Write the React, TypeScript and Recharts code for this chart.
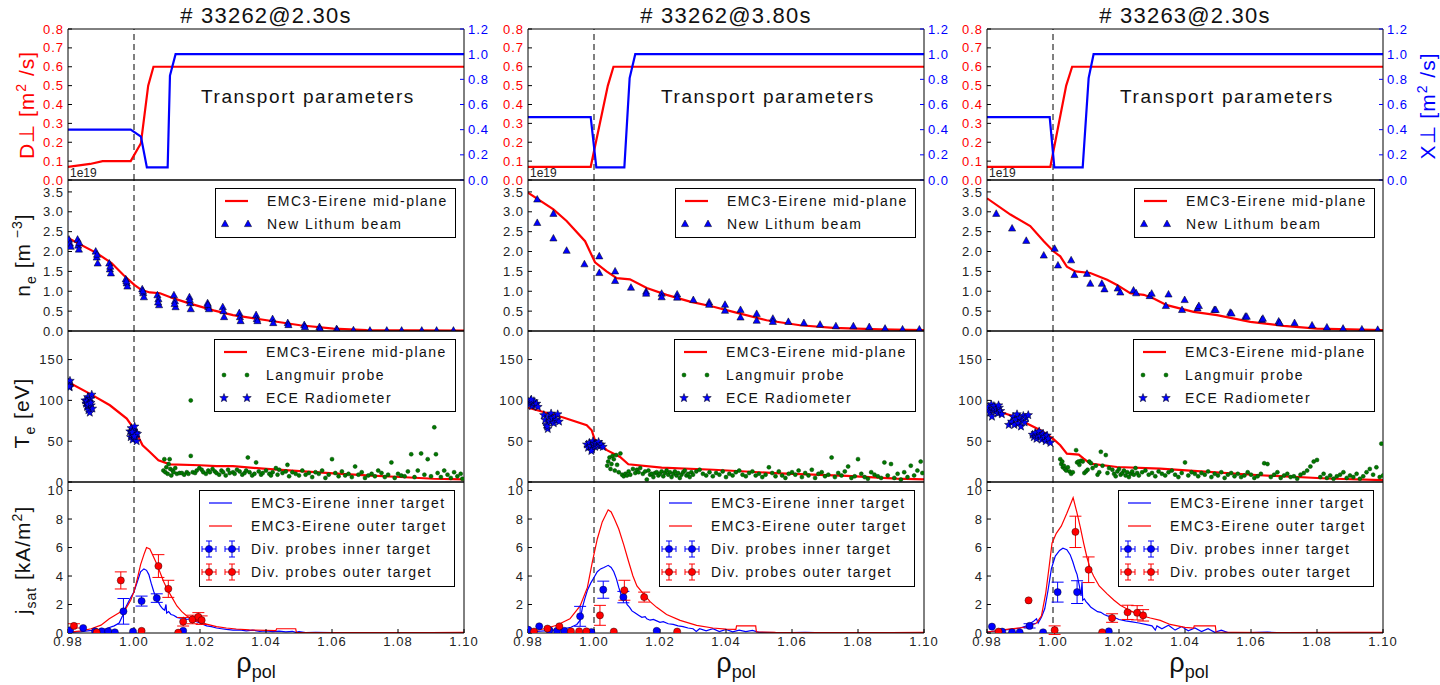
import React from "react";
import {
  ComposedChart,
  Line,
  Scatter,
  XAxis,
  YAxis,
  ReferenceLine,
  ErrorBar,
  Legend,
} from "recharts";

const FONT = '"Liberation Sans", Arial, Helvetica, sans-serif';
const RED = "#ff0000";
const BLUE = "#0000ff";
const GREEN = "#007a00";

// plot boxes of the 3 x 4 panel grid
const PLOT_LEFT = [68, 528, 987];
const PLOT_TOP = [29, 180, 331, 482];
const PW = 396;
const PH = 151;

const titles = ["# 33262@2.30s", "# 33262@3.80s", "# 33263@2.30s"];
const rhoTicks = [0.98, 1.0, 1.02, 1.04, 1.06, 1.08, 1.1];
const dTicks = [0, 0.1, 0.2, 0.3, 0.4, 0.5, 0.6, 0.7, 0.8];
const chiTicks = [0, 0.2, 0.4, 0.6, 0.8, 1.0, 1.2];
const neTicks = [0, 0.5, 1.0, 1.5, 2.0, 2.5, 3.0, 3.5];
const teTicks = [0, 50, 100, 150];
const jTicks = [0, 2, 4, 6, 8, 10];

const neLegend = ["EMC3-Eirene mid-plane", "New Lithum beam"];
const teLegend = ["EMC3-Eirene mid-plane", "Langmuir probe", "ECE Radiometer"];
const jLegend = [
  "EMC3-Eirene inner target",
  "EMC3-Eirene outer target",
  "Div. probes inner target",
  "Div. probes outer target",
];

// ---- transport coefficients [rho, value]
const dPerpA = [[0.98, 0.07], [0.9867, 0.085], [0.9905, 0.1], [0.999, 0.1], [1.0021, 0.195], [1.0043, 0.5], [1.0059, 0.6], [1.1, 0.6]];
const chiA = [[0.98, 0.4], [0.999, 0.4], [1.0021, 0.345], [1.0039, 0.1], [1.0102, 0.1], [1.0109, 0.83], [1.0126, 1.0], [1.1, 1.0]];
const dPerpB = [[0.98, 0.07], [0.999, 0.07], [1.0042, 0.5], [1.0059, 0.6], [1.1, 0.6]];
const chiB = [[0.98, 0.5], [0.999, 0.5], [1.0007, 0.1], [1.0092, 0.1], [1.0108, 0.81], [1.0125, 1.0], [1.1, 1.0]];
const dPerpC = [[0.98, 0.07], [0.9992, 0.07], [1.004, 0.5], [1.0058, 0.6], [1.1, 0.6]];
const chiC = [[0.98, 0.5], [0.999, 0.5], [1.0004, 0.1], [1.009, 0.1], [1.0108, 0.81], [1.0123, 1.0], [1.1, 1.0]];

// ---- electron density, 1e19 m^-3
const neModelA = [[0.98, 2.34], [0.9887, 1.96], [0.9932, 1.71], [0.9968, 1.41], [1.0001, 1.16], [1.0023, 1.03], [1.0048, 0.97], [1.0079, 0.95], [1.012, 0.82], [1.017, 0.69], [1.0241, 0.52], [1.03, 0.4], [1.0402, 0.27], [1.0503, 0.145], [1.0604, 0.06], [1.0705, 0.02], [1.1, 0.01]];
const neBeamA = [
  [0.9803, 2.3], [0.9806, 2.2], [0.9808, 2.12], [0.9829, 2.3], [0.9831, 2.15], [0.9833, 2.05], [0.9834, 2.22],
  [0.9884, 2.0], [0.9887, 1.85], [0.989, 1.7], [0.9888, 1.92], [0.9925, 1.7], [0.9927, 1.55], [0.993, 1.45], [0.9928, 1.62],
  [0.9975, 1.3], [0.9978, 1.2], [0.998, 1.12], [0.9977, 1.25], [1.0025, 1.05], [1.0028, 0.95], [1.003, 0.85], [1.0027, 1.0],
  [1.0071, 0.9], [1.0074, 0.8], [1.0076, 0.65], [1.0073, 0.72], [1.0121, 0.9], [1.0124, 0.75], [1.0126, 0.6], [1.0123, 0.68],
  [1.0168, 0.85], [1.017, 0.7], [1.0172, 0.55], [1.0169, 0.78], [1.0223, 0.7], [1.0225, 0.6], [1.0227, 0.55], [1.0224, 0.66],
  [1.0269, 0.6], [1.0271, 0.5], [1.0273, 0.35], [1.0319, 0.45], [1.0321, 0.35], [1.0323, 0.25], [1.037, 0.4], [1.0372, 0.3],
  [1.0374, 0.25], [1.042, 0.3], [1.0422, 0.2], [1.0466, 0.2], [1.0468, 0.15], [1.0516, 0.15], [1.0518, 0.1], [1.0562, 0.1],
  [1.0564, 0.05], [1.0614, 0.05], [1.0616, 0.02], [1.0665, 0.02], [1.0715, 0.01], [1.0766, 0.01], [1.0811, 0.01],
  [1.0872, 0.01], [1.0917, 0.01], [1.0968, 0.01],
];
const neModelB = [[0.98, 3.48], [0.9877, 3.06], [0.9917, 2.77], [0.9973, 2.26], [1.0003, 1.73], [1.0038, 1.5], [1.0069, 1.33], [1.0109, 1.3], [1.016, 1.08], [1.022, 0.91], [1.0291, 0.74], [1.0362, 0.61], [1.0422, 0.48], [1.0523, 0.27], [1.0624, 0.145], [1.0725, 0.08], [1.0867, 0.04], [1.1, 0.02]];
const neBeamB = [
  [0.9828, 3.31], [0.9828, 2.72], [0.9877, 2.95], [0.9877, 2.33], [0.9917, 2.02], [0.9971, 1.68], [1.0016, 1.88],
  [1.0016, 1.46], [1.0064, 1.5], [1.0064, 1.26], [1.0112, 1.09], [1.0158, 0.99], [1.0158, 0.94], [1.0205, 0.94],
  [1.0205, 0.85], [1.0252, 0.92], [1.0252, 0.84], [1.0301, 0.78], [1.0349, 0.72], [1.0349, 0.66], [1.0397, 0.66],
  [1.0397, 0.51], [1.0444, 0.53], [1.0444, 0.34], [1.0493, 0.43], [1.0493, 0.26], [1.0542, 0.31], [1.0542, 0.23],
  [1.0589, 0.23], [1.0636, 0.2], [1.0685, 0.16], [1.0733, 0.12], [1.0786, 0.12], [1.0834, 0.1], [1.0882, 0.06],
  [1.0935, 0.04], [1.0986, 0.04],
];
const neModelC = [[0.98, 3.34], [0.9871, 2.93], [0.9931, 2.64], [0.9972, 2.26], [1.0002, 2.0], [1.0022, 1.88], [1.0042, 1.62], [1.0068, 1.5], [1.0113, 1.46], [1.0164, 1.29], [1.0194, 1.16], [1.0234, 0.95], [1.0275, 0.91], [1.0305, 0.82], [1.0345, 0.65], [1.0426, 0.48], [1.0497, 0.4], [1.0598, 0.23], [1.0699, 0.13], [1.08, 0.06], [1.1, 0.02]];
const neBeamC = [
  [0.9828, 2.95], [0.9876, 2.58], [0.9919, 2.27], [0.9972, 1.9], [1.0005, 2.07], [1.0015, 1.65], [1.0055, 1.78],
  [1.0065, 1.41], [1.0103, 1.44], [1.0113, 1.19], [1.0148, 1.19], [1.0156, 1.05], [1.0196, 1.07], [1.0204, 0.97],
  [1.0244, 1.02], [1.0252, 0.95], [1.0293, 0.88], [1.0299, 0.94], [1.0342, 0.63], [1.035, 0.92], [1.0391, 0.53],
  [1.0399, 0.78], [1.0438, 0.57], [1.0442, 0.63], [1.0489, 0.53], [1.0493, 0.53], [1.0537, 0.46], [1.0541, 0.44],
  [1.0583, 0.36], [1.0587, 0.36], [1.0633, 0.28], [1.0636, 0.31], [1.0684, 0.24], [1.0687, 0.2], [1.0732, 0.2],
  [1.0785, 0.14], [1.083, 0.09], [1.0879, 0.06], [1.0936, 0.04], [1.0984, 0.03],
];

// ---- electron temperature, eV
const teModelA = [[0.98, 122.5], [0.9867, 108], [0.9927, 94], [0.9978, 77.7], [1.0003, 63.4], [1.0026, 45], [1.0048, 36.8], [1.0074, 26.6], [1.0109, 21.7], [1.02, 20.5], [1.025, 19.4], [1.03, 19.4], [1.0402, 16], [1.0503, 13.4], [1.0605, 10.6], [1.0705, 8.2], [1.0806, 6.1], [1.0908, 4], [1.1, 3.3]];
const teEceA = [
  [0.9801, 122], [0.9803, 118], [0.9805, 116], [0.9802, 120], [0.9806, 124], [0.9804, 117],
  [0.9852, 100], [0.9855, 96], [0.9858, 92], [0.986, 104], [0.9862, 88], [0.9864, 98], [0.9866, 85], [0.9868, 102],
  [0.987, 94], [0.9872, 107], [0.9874, 90], [0.9857, 99], [0.9861, 95], [0.9869, 97],
  [0.9988, 62], [0.999, 55], [0.9992, 66], [0.9994, 58], [0.9996, 52], [0.9998, 63], [1.0, 57], [1.0002, 68],
  [1.0004, 54], [1.0006, 60], [1.0008, 50], [1.001, 59], [0.9995, 61], [1.0001, 56],
];
const teProbeA = [
  [1.0089, 14], [1.0092, 28], [1.0095, 12], [1.0098, 18], [1.0102, 10], [1.0105, 22], [1.0108, 28], [1.011, 16],
  [1.0113, 8], [1.0117, 14], [1.012, 12], [1.0125, 17], [1.013, 10], [1.0138, 11], [1.0145, 11], [1.0152, 9],
  [1.016, 12], [1.0165, 10], [1.0172, 100], [1.0172, 32], [1.0178, 12], [1.0185, 11], [1.019, 14], [1.0198, 17],
  [1.0205, 15], [1.021, 12], [1.0218, 10], [1.0225, 14], [1.023, 12], [1.0238, 16], [1.0245, 13], [1.025, 11],
  [1.0258, 9], [1.0265, 14], [1.027, 12], [1.0278, 8], [1.0285, 15], [1.029, 11], [1.03, 12], [1.0305, 10],
  [1.0312, 15], [1.032, 13], [1.0328, 9], [1.0335, 11], [1.034, 14], [1.0345, 30], [1.035, 12], [1.0358, 8],
  [1.0365, 10], [1.037, 24], [1.0378, 13], [1.0385, 9], [1.039, 11], [1.04, 14], [1.041, 10], [1.0415, 8],
  [1.042, 12], [1.043, 17], [1.0435, 9], [1.044, 15], [1.045, 11], [1.046, 13], [1.0465, 21], [1.047, 7],
  [1.048, 12], [1.049, 10], [1.05, 8], [1.051, 14], [1.052, 9], [1.053, 11], [1.054, 6], [1.055, 12], [1.056, 10],
  [1.057, 14], [1.058, 5], [1.059, 9], [1.06, 28], [1.061, 11], [1.062, 7], [1.063, 13], [1.064, 8], [1.065, 10],
  [1.066, 6], [1.067, 19], [1.068, 9], [1.069, 12], [1.07, 5], [1.071, 8], [1.072, 10], [1.073, 7], [1.074, 14],
  [1.075, 11], [1.076, 6], [1.077, 9], [1.078, 24], [1.079, 5], [1.08, 10], [1.081, 8], [1.082, 7], [1.083, 13],
  [1.084, 34], [1.085, 6], [1.086, 14], [1.087, 35], [1.088, 9], [1.089, 28], [1.09, 7], [1.091, 67], [1.0915, 34],
  [1.092, 11], [1.093, 6], [1.094, 14], [1.095, 9], [1.096, 5], [1.097, 12], [1.098, 7], [1.099, 10], [1.0995, 4],
];
const teModelB = [[0.98, 91], [0.9907, 79], [0.9978, 69.5], [0.9993, 63.4], [1.0003, 51], [1.0039, 39], [1.0079, 30.7], [1.0104, 21.7], [1.0205, 17.6], [1.0362, 15], [1.0564, 10.6], [1.0766, 7.4], [1.0917, 4.2], [1.1, 3.3]];
const teEceB = [
  [0.9801, 98], [0.9805, 95], [0.9808, 100], [0.9812, 93], [0.9815, 97], [0.9818, 99], [0.9822, 94], [0.9826, 96],
  [0.983, 92], [0.981, 101],
  [0.9848, 82], [0.9852, 76], [0.9856, 70], [0.986, 65], [0.9863, 80], [0.9866, 74], [0.987, 84], [0.9874, 78],
  [0.9878, 72], [0.9882, 80], [0.9886, 76], [0.989, 83], [0.9894, 74], [0.9858, 68],
  [0.9978, 46], [0.9982, 42], [0.9986, 48], [0.999, 44], [0.9994, 40], [0.9997, 50], [1.0, 46], [1.0003, 43],
  [1.0006, 47], [1.001, 45], [1.0014, 49], [1.0018, 44], [1.0022, 46], [1.0027, 43], [0.9992, 38],
];
const teProbeB = [
  [1.004, 20], [1.0043, 25], [1.0047, 30], [1.005, 16], [1.0053, 22], [1.0056, 32], [1.006, 28], [1.0063, 14],
  [1.0067, 33], [1.007, 21], [1.0075, 12], [1.008, 35], [1.0085, 9], [1.009, 7], [1.0095, 10], [1.01, 8],
  [1.0105, 13], [1.011, 9], [1.0118, 16], [1.0125, 11], [1.013, 15], [1.0135, 12], [1.014, 17], [1.0148, 10],
  [1.0155, 13], [1.016, 3], [1.0165, 14], [1.017, 9], [1.0175, 10], [1.018, 6], [1.0185, 11], [1.019, 12],
  [1.0195, 8], [1.02, 10], [1.0205, 13], [1.021, 7], [1.0215, 11], [1.022, 14], [1.0225, 9], [1.023, 12],
  [1.0235, 6], [1.024, 10], [1.0245, 13], [1.025, 8], [1.0255, 11], [1.026, 5], [1.0265, 9], [1.027, 12],
  [1.0275, 14], [1.028, 8], [1.0285, 10], [1.029, 6], [1.0295, 12], [1.03, 9], [1.031, 13], [1.032, 15],
  [1.033, 10], [1.034, 8], [1.035, 12], [1.036, 7], [1.037, 11], [1.038, 9], [1.039, 13], [1.04, 6], [1.041, 10],
  [1.042, 8], [1.043, 12], [1.044, 14], [1.045, 9], [1.046, 7], [1.047, 11], [1.048, 13], [1.049, 8], [1.05, 10],
  [1.051, 6], [1.052, 9], [1.053, 18], [1.054, 11], [1.055, 7], [1.056, 13], [1.057, 8], [1.058, 5], [1.059, 10],
  [1.06, 12], [1.061, 9], [1.062, 14], [1.063, 6], [1.064, 11], [1.065, 8], [1.066, 15], [1.067, 5], [1.068, 10],
  [1.069, 12], [1.07, 7], [1.071, 9], [1.072, 30], [1.073, 6], [1.074, 11], [1.075, 8], [1.076, 13], [1.077, 19],
  [1.078, 5], [1.079, 7], [1.08, 28], [1.081, 10], [1.082, 6], [1.083, 4], [1.084, 12], [1.085, 9], [1.086, 7],
  [1.087, 5], [1.088, 24], [1.089, 8], [1.09, 22], [1.091, 5], [1.092, 10], [1.093, 3], [1.094, 12], [1.095, 6],
  [1.096, 20], [1.097, 8], [1.098, 14], [1.099, 25], [1.0995, 11],
];
const teModelC = [[0.98, 91], [0.9871, 81.7], [0.9962, 63.4], [1.0, 53], [1.0022, 45], [1.0042, 34.8], [1.0078, 33.6], [1.0093, 28.7], [1.0113, 22.5], [1.0194, 18.4], [1.0325, 16.5], [1.0426, 13.6], [1.0628, 8.3], [1.083, 4.3], [1.1, 2.3]];
const teEceC = [
  [0.9801, 88], [0.9805, 92], [0.9809, 85], [0.9813, 95], [0.9817, 89], [0.9821, 93], [0.9825, 86], [0.9829, 90],
  [0.9833, 84], [0.9837, 91], [0.9841, 87], [0.9845, 83], [0.9815, 80], [0.9835, 94], [0.9866, 70],
  [0.9875, 74], [0.9879, 80], [0.9883, 70], [0.9887, 77], [0.9891, 83], [0.9895, 72], [0.9899, 78], [0.9903, 68],
  [0.9907, 75], [0.991, 81], [0.9914, 73], [0.9918, 79], [0.9925, 82],
  [0.9938, 58], [0.9942, 55], [0.9946, 60], [0.995, 53], [0.9954, 57], [0.9958, 62], [0.9962, 56], [0.9966, 52],
  [0.997, 59], [0.9974, 55], [0.9978, 50], [0.9982, 57], [0.9986, 53], [0.9992, 48],
];
const teProbeC = [
  [1.0022, 28], [1.0025, 22], [1.0028, 25], [1.003, 18], [1.0033, 20], [1.0036, 16], [1.004, 14], [1.0045, 18],
  [1.005, 13], [1.0055, 10], [1.006, 12], [1.007, 39], [1.0073, 24], [1.0077, 25], [1.008, 21], [1.0085, 26],
  [1.009, 25], [1.0095, 11], [1.01, 13], [1.0105, 15], [1.011, 25], [1.0115, 23], [1.012, 17], [1.013, 20],
  [1.0135, 9], [1.014, 12], [1.0145, 37], [1.015, 20], [1.016, 33], [1.0165, 11], [1.017, 17], [1.018, 15],
  [1.0185, 10], [1.019, 7], [1.0195, 13], [1.02, 16], [1.0205, 9], [1.021, 11], [1.0215, 14], [1.022, 8],
  [1.0225, 12], [1.023, 6], [1.0235, 10], [1.024, 13], [1.0245, 9], [1.025, 17], [1.0255, 11], [1.026, 8],
  [1.027, 12], [1.028, 14], [1.029, 9], [1.03, 11], [1.031, 7], [1.032, 13], [1.033, 10], [1.034, 8], [1.035, 12],
  [1.036, 14], [1.037, 9], [1.038, 6], [1.039, 11], [1.04, 24], [1.041, 8], [1.042, 12], [1.043, 10], [1.044, 7],
  [1.045, 11], [1.046, 9], [1.047, 13], [1.048, 6], [1.049, 10], [1.05, 8], [1.051, 12], [1.052, 5], [1.053, 9],
  [1.054, 11], [1.055, 7], [1.056, 10], [1.057, 6], [1.058, 8], [1.059, 12], [1.06, 9], [1.061, 5], [1.062, 7],
  [1.063, 10], [1.064, 23], [1.065, 22], [1.066, 6], [1.067, 9], [1.068, 12], [1.069, 5], [1.07, 8], [1.071, 10],
  [1.072, 6], [1.073, 7], [1.074, 4], [1.075, 9], [1.076, 11], [1.077, 14], [1.078, 19], [1.079, 25], [1.08, 27],
  [1.081, 6], [1.082, 10], [1.083, 5], [1.084, 8], [1.085, 4], [1.086, 7], [1.087, 9], [1.088, 12], [1.089, 5],
  [1.09, 8], [1.091, 6], [1.092, 10], [1.093, 4], [1.094, 7], [1.095, 12], [1.096, 16], [1.097, 9], [1.098, 18],
  [1.099, 6], [1.0995, 47], [1.1, 8],
];

// ---- saturation current, kA/m^2 (probes: [rho, j, err])
const jInModelA = [[0.98, 0.05], [0.984, 0.1], [0.988, 0.2], [0.9915, 0.3], [0.994, 0.5], [0.9955, 0.7], [0.9965, 1.2], [0.9975, 1.8], [0.9988, 2.4], [1.0, 2.9], [1.001, 3.6], [1.002, 4.3], [1.003, 4.5], [1.0038, 4.4], [1.0045, 4.1], [1.0052, 3.5], [1.006, 2.9], [1.0067, 2.5], [1.0073, 2.2], [1.008, 1.9], [1.0087, 1.7], [1.0093, 1.6], [1.0097, 2.0], [1.0099, 1.4], [1.0105, 1.5], [1.0112, 1.3], [1.012, 1.25], [1.013, 1.1], [1.014, 1.05], [1.015, 1.1], [1.016, 0.95], [1.017, 1.0], [1.018, 0.85], [1.019, 0.8], [1.02, 0.7], [1.021, 0.6], [1.022, 0.5], [1.0235, 0.45], [1.025, 0.35], [1.0265, 0.3], [1.028, 0.25], [1.03, 0.2], [1.032, 0.22], [1.034, 0.15], [1.036, 0.2], [1.038, 0.12], [1.04, 0.15], [1.042, 0.1], [1.044, 0.13], [1.046, 0.08], [1.048, 0.12], [1.049, 0.05], [1.05, 0.1], [1.052, 0.03], [1.055, 0.04], [1.06, 0.02], [1.065, 0.03], [1.07, 0.01], [1.08, 0.01], [1.09, 0.0], [1.1, 0.0]];
const jOutModelA = [[0.98, 0.05], [0.984, 0.15], [0.987, 0.3], [0.99, 0.55], [0.9925, 1.0], [0.995, 1.35], [0.9975, 1.7], [0.999, 2.3], [1.0, 2.9], [1.001, 3.8], [1.002, 4.8], [1.003, 5.5], [1.0038, 6.0], [1.0048, 5.9], [1.0058, 5.4], [1.007, 4.8], [1.008, 4.2], [1.009, 3.6], [1.01, 3.1], [1.0115, 2.5], [1.013, 1.9], [1.0145, 1.5], [1.016, 1.2], [1.018, 0.95], [1.02, 0.78], [1.022, 0.62], [1.025, 0.45], [1.028, 0.35], [1.031, 0.28], [1.035, 0.22], [1.04, 0.18], [1.043, 0.17], [1.0432, 0.3], [1.049, 0.3], [1.0492, 0.05], [1.055, 0.03], [1.07, 0.02], [1.08, 0.02], [1.09, 0.03], [1.1, 0.04]];
const jInProbeA = [[0.9806, 0.19, 0], [0.9846, 0.35, 0], [0.9882, 0.12, 0], [0.9902, 0.12, 0], [0.9922, 0.12, 0], [0.9942, 0.05, 0], [0.9968, 1.52, 0.9], [0.9997, 0.1, 0], [1.0023, 2.24, 0.35], [1.0069, 2.45, 0.3], [1.0149, 0.15, 0]];
const jOutProbeA = [[0.9818, 0.5, 0.15], [0.9887, 0.05, 0], [0.996, 3.69, 0.6], [1.0023, 0.15, 0], [1.0074, 4.7, 0.8], [1.0104, 3.1, 0.6], [1.0134, 0.02, 0], [1.0149, 0.79, 0.3], [1.0177, 0.95, 0.3], [1.0195, 1.13, 0.3], [1.0205, 0.9, 0.3]];
const jInModelB = [[0.98, 0.07], [0.985, 0.15], [0.99, 0.25], [0.993, 0.4], [0.9948, 0.6], [0.9958, 0.9], [0.9965, 1.8], [0.9972, 2.4], [0.998, 3.0], [0.999, 3.5], [1.0, 3.9], [1.001, 4.3], [1.002, 4.5], [1.003, 4.6], [1.0043, 4.75], [1.0052, 4.6], [1.006, 4.3], [1.0068, 3.8], [1.0075, 3.2], [1.0082, 2.7], [1.009, 2.4], [1.0095, 2.6], [1.01, 2.0], [1.0108, 1.8], [1.0115, 1.55], [1.0125, 1.4], [1.0135, 1.25], [1.0145, 1.1], [1.0155, 1.15], [1.016, 1.0], [1.017, 0.9], [1.018, 0.95], [1.019, 0.85], [1.02, 0.75], [1.021, 0.8], [1.0225, 0.65], [1.024, 0.6], [1.0255, 0.5], [1.027, 0.45], [1.0285, 0.35], [1.03, 0.3], [1.031, 0.1], [1.032, 0.3], [1.034, 0.15], [1.036, 0.3], [1.038, 0.1], [1.04, 0.25], [1.042, 0.08], [1.044, 0.2], [1.046, 0.1], [1.048, 0.18], [1.05, 0.05], [1.055, 0.03], [1.06, 0.02], [1.064, 0.05], [1.07, 0.01], [1.08, 0.0], [1.1, 0.0]];
const jOutModelB = [[0.98, 0.07], [0.985, 0.3], [0.9887, 0.54], [0.9927, 1.0], [0.9958, 1.9], [0.998, 3.2], [0.9995, 5.0], [1.001, 6.6], [1.0025, 7.8], [1.0043, 8.65], [1.0052, 8.5], [1.0062, 8.0], [1.0075, 7.3], [1.009, 6.2], [1.0105, 5.0], [1.0118, 4.0], [1.013, 3.3], [1.015, 2.75], [1.017, 2.2], [1.019, 1.8], [1.022, 1.3], [1.0261, 0.89], [1.0311, 0.54], [1.036, 0.35], [1.04, 0.27], [1.043, 0.25], [1.0432, 0.5], [1.049, 0.5], [1.0492, 0.08], [1.055, 0.04], [1.07, 0.02], [1.09, 0.03], [1.1, 0.05]];
const jInProbeB = [[0.9801, 0.23, 0], [0.9834, 0.47, 0], [0.9865, 0.2, 0], [0.9888, 0.15, 0], [0.991, 0.15, 0], [0.9958, 1.17, 0.7], [0.9992, 0.07, 0], [1.0028, 3.04, 0.6], [1.0089, 2.52, 0.4], [1.019, 0.15, 0]];
const jOutProbeB = [[0.9818, 0.1, 0], [0.9859, 0.31, 0], [0.9895, 0.47, 0], [0.993, 0.12, 0], [0.9955, 0.12, 0], [0.9977, 0.12, 0], [1.0018, 1.24, 0.7], [1.006, 0.1, 0], [1.0092, 3.0, 0.7], [1.0152, 2.52, 0.35], [1.0252, 0.1, 0]];
const jInModelC = [[0.98, 0.07], [0.985, 0.2], [0.99, 0.35], [0.992, 0.5], [0.994, 0.8], [0.995, 1.0], [0.9955, 0.7], [0.9965, 1.1], [0.9975, 1.7], [0.9985, 3.0], [0.9995, 4.5], [1.0007, 5.4], [1.002, 5.8], [1.003, 5.95], [1.0042, 5.85], [1.0052, 5.5], [1.006, 5.0], [1.0068, 4.4], [1.0073, 4.1], [1.008, 3.3], [1.0085, 2.6], [1.0088, 3.6], [1.009, 2.3], [1.0095, 2.4], [1.01, 2.2], [1.0108, 2.0], [1.0115, 1.8], [1.0125, 1.65], [1.0135, 1.5], [1.0145, 1.45], [1.0155, 1.3], [1.0165, 1.2], [1.0175, 1.15], [1.019, 1.05], [1.02, 0.95], [1.022, 0.85], [1.024, 0.78], [1.026, 0.7], [1.028, 0.6], [1.03, 0.5], [1.031, 0.2], [1.0315, 0.5], [1.033, 0.3], [1.035, 0.55], [1.037, 0.2], [1.039, 0.45], [1.041, 0.15], [1.043, 0.35], [1.045, 0.1], [1.047, 0.3], [1.049, 0.05], [1.051, 0.2], [1.053, 0.03], [1.06, 0.02], [1.065, 0.06], [1.07, 0.01], [1.1, 0.0]];
const jOutModelC = [[0.98, 0.07], [0.986, 0.25], [0.9921, 0.42], [0.995, 0.7], [0.9965, 1.2], [0.9978, 2.8], [0.9988, 4.6], [0.9997, 6.3], [1.001, 7.0], [1.0025, 7.5], [1.0042, 8.4], [1.0061, 9.5], [1.0072, 8.5], [1.0083, 7.4], [1.0093, 6.3], [1.0103, 5.3], [1.0113, 4.5], [1.0123, 4.0], [1.014, 3.3], [1.0164, 2.75], [1.0185, 2.3], [1.0204, 1.95], [1.0235, 1.55], [1.0265, 1.24], [1.0295, 1.05], [1.0325, 0.89], [1.0355, 0.6], [1.04, 0.4], [1.0426, 0.35], [1.0428, 0.5], [1.0492, 0.5], [1.0494, 0.07], [1.055, 0.04], [1.07, 0.02], [1.09, 0.04], [1.1, 0.05]];
const jInProbeC = [[0.9815, 0.45, 0], [0.9846, 0.1, 0], [0.9876, 0.05, 0], [0.9899, 0.05, 0], [0.9929, 0.5, 0.15], [0.997, 0.05, 0], [1.0014, 2.87, 0.7], [1.0073, 2.87, 0.8], [1.0169, 0.12, 0]];
const jOutProbeC = [[0.9835, 0.1, 0], [0.9926, 2.29, 0], [1.0005, 0.2, 0.3], [1.0068, 7.1, 1.1], [1.0108, 4.44, 0.9], [1.0149, 0.05, 0], [1.0179, 1.05, 0.3], [1.0226, 1.45, 0.5], [1.0255, 1.42, 0.5], [1.0273, 1.24, 0.4]];

const dPerp = [dPerpA, dPerpB, dPerpC];
const chi = [chiA, chiB, chiC];
const neModel = [neModelA, neModelB, neModelC];
const neBeam = [neBeamA, neBeamB, neBeamC];
const teModel = [teModelA, teModelB, teModelC];
const teEce = [teEceA, teEceB, teEceC];
const teProbe = [teProbeA, teProbeB, teProbeC];
const jInModel = [jInModelA, jInModelB, jInModelC];
const jOutModel = [jOutModelA, jOutModelB, jOutModelC];
const jInProbe = [jInProbeA, jInProbeB, jInProbeC];
const jOutProbe = [jOutProbeA, jOutProbeB, jOutProbeC];

const toPts = (a: number[][]) => a.map(([x, y, err]) => ({ x, y, err: err ?? 0 }));

// ---- marker shapes
const tri = (p: any) =>
  p.cx == null ? <g /> : (
    <polygon
      points={`${p.cx},${p.cy - 4} ${p.cx - 3.6},${p.cy + 2.6} ${p.cx + 3.6},${p.cy + 2.6}`}
      fill={BLUE}
      stroke="#000"
      strokeWidth={0.5}
    />
  );

function starPoints(cx: number, cy: number, R: number, r: number) {
  const pts: string[] = [];
  for (let i = 0; i < 10; i++) {
    const a = -Math.PI / 2 + (i * Math.PI) / 5;
    const rad = i % 2 === 0 ? R : r;
    pts.push(`${(cx + rad * Math.cos(a)).toFixed(2)},${(cy + rad * Math.sin(a)).toFixed(2)}`);
  }
  return pts.join(" ");
}

const star = (p: any) =>
  p.cx == null ? <g /> : <polygon points={starPoints(p.cx, p.cy, 4.5, 1.9)} fill={BLUE} stroke="#000" strokeWidth={0.5} />;

const dot = (p: any) =>
  p.cx == null ? <g /> : <circle cx={p.cx} cy={p.cy} r={2} fill={GREEN} stroke="#004000" strokeWidth={0.5} />;

const ball = (color: string) => (p: any) =>
  p.cx == null ? <g /> : <circle cx={p.cx} cy={p.cy} r={3.6} fill={color} stroke="#000" strokeWidth={0.4} />;

// ---- legend
type LegendItem = { label: string; kind: "line" | "thin" | "tri" | "dot" | "star" | "err"; color: string };

function Swatch({ kind, color }: { kind: LegendItem["kind"]; color: string }) {
  const xs = [9, 32];
  return (
    <svg width={43} height={20} style={{ display: "block" }}>
      {kind === "line" && <line x1={9} x2={32} y1={10} y2={10} stroke={color} strokeWidth={2.2} />}
      {kind === "thin" && <line x1={9} x2={32} y1={10} y2={10} stroke={color} strokeWidth={1.2} />}
      {kind === "tri" && xs.map((x) => <g key={x}>{tri({ cx: x, cy: 10 })}</g>)}
      {kind === "dot" && xs.map((x) => <g key={x}>{dot({ cx: x, cy: 10 })}</g>)}
      {kind === "star" && xs.map((x) => <g key={x}>{star({ cx: x, cy: 10 })}</g>)}
      {kind === "err" &&
        xs.map((x) => (
          <g key={x} stroke={color} strokeWidth={1}>
            <line x1={x - 7} x2={x + 7} y1={10} y2={10} />
            <line x1={x - 7} x2={x - 7} y1={7} y2={13} />
            <line x1={x + 7} x2={x + 7} y1={7} y2={13} />
            <line x1={x} x2={x} y1={2} y2={18} />
            <line x1={x - 3} x2={x + 3} y1={2} y2={2} />
            <line x1={x - 3} x2={x + 3} y1={18} y2={18} />
            {ball(color)({ cx: x, cy: 10 })}
          </g>
        ))}
    </svg>
  );
}

function LegendBox({ items, width, height }: { items: LegendItem[]; width: number; height: number }) {
  return (
    <div
      style={{
        position: "relative",
        width,
        height,
        boxSizing: "border-box",
        border: "1px solid #000",
        background: "#fff",
        fontFamily: FONT,
        fontSize: 14,
        letterSpacing: 1.5,
        color: "#111",
      }}
    >
      {items.map((it, i) => (
        <div
          key={it.label}
          style={{ position: "absolute", left: 0, top: 12.5 + 23 * i - 11, height: 20, display: "flex", alignItems: "center" }}
        >
          <Swatch kind={it.kind} color={it.color} />
          <span style={{ marginLeft: 8, whiteSpace: "nowrap", lineHeight: "20px" }}>{it.label}</span>
        </div>
      ))}
    </div>
  );
}

type PanelProps = {
  col: number;
  row: number;
  domain: [number, number];
  ticks: number[];
  fmt: (v: number) => string;
  color?: string;
  right?: { domain: [number, number]; ticks: number[]; color: string };
  legend?: { items: LegendItem[]; left: number; width: number; height: number };
  children: React.ReactNode;
};

const tickFont = { fontSize: 13, fontFamily: FONT, style: { letterSpacing: "1px" } };

function Panel({ col, row, domain, ticks, fmt, color = "#222", right, legend, children }: PanelProps) {
  const last = row === 3;
  const bottom = last ? 39 : 11;
  return (
    <div style={{ position: "absolute", left: PLOT_LEFT[col] - 50, top: PLOT_TOP[row] - 12 }}>
      <ComposedChart width={PW + 100} height={PH + 13 + bottom} margin={{ top: 11, right: 49, bottom, left: 49 }}>
        <XAxis
          xAxisId="b"
          dataKey="x"
          type="number"
          domain={[0.98, 1.1]}
          allowDataOverflow
          ticks={rhoTicks}
          interval={0}
          height={1}
          tickSize={-4}
          tickMargin={8}
          axisLine={{ stroke: "#000" }}
          tickLine={{ stroke: "#000" }}
          tick={last ? { ...tickFont, fill: "#222" } : false}
          tickFormatter={(v: number) => v.toFixed(2)}
        />
        <XAxis
          xAxisId="t"
          orientation="top"
          type="number"
          domain={[0.98, 1.1]}
          allowDataOverflow
          ticks={rhoTicks}
          interval={0}
          height={1}
          tickSize={-4}
          axisLine={{ stroke: "#000" }}
          tickLine={{ stroke: "#000" }}
          tick={false}
        />
        <YAxis
          yAxisId="l"
          dataKey="y"
          type="number"
          domain={domain}
          allowDataOverflow
          ticks={ticks}
          interval={0}
          width={1}
          tickSize={-4}
          tickMargin={8}
          axisLine={{ stroke: "#000" }}
          tickLine={{ stroke: "#000" }}
          tick={{ ...tickFont, fill: color }}
          tickFormatter={fmt}
        />
        <YAxis
          yAxisId="r"
          orientation="right"
          dataKey="y"
          type="number"
          domain={right ? right.domain : domain}
          allowDataOverflow
          ticks={right ? right.ticks : ticks}
          interval={0}
          width={1}
          tickSize={-4}
          tickMargin={8}
          axisLine={{ stroke: "#000" }}
          tickLine={{ stroke: right ? right.color : "#000" }}
          tick={right ? { ...tickFont, fill: right.color } : false}
          tickFormatter={(v: number) => v.toFixed(1)}
        />
        <ReferenceLine xAxisId="b" yAxisId="l" x={1.0} stroke="#000" strokeWidth={1} strokeDasharray="6 4" />
        {children}
        {legend && (
          <Legend
            layout="horizontal"
            verticalAlign="middle"
            align="center"
            wrapperStyle={{ left: 50 + legend.left, top: 20, width: legend.width, height: legend.height }}
            content={() => <LegendBox items={legend.items} width={legend.width} height={legend.height} />}
          />
        )}
      </ComposedChart>
    </div>
  );
}

const line = (key: string, data: number[][], color: string, width: number, axis = "l") => (
  <Line
    key={key}
    xAxisId="b"
    yAxisId={axis}
    data={toPts(data)}
    dataKey="y"
    type="linear"
    stroke={color}
    strokeWidth={width}
    dot={false}
    activeDot={false}
    isAnimationActive={false}
  />
);

const scatter = (key: string, data: number[][], shape: any, err?: string) => (
  <Scatter key={key} xAxisId="b" yAxisId="l" data={toPts(data)} shape={shape} isAnimationActive={false}>
    {err && <ErrorBar dataKey="err" direction="y" width={6} stroke={err} strokeWidth={1} />}
  </Scatter>
);

const neItems: LegendItem[] = [
  { label: neLegend[0], kind: "line", color: RED },
  { label: neLegend[1], kind: "tri", color: BLUE },
];
const teItems: LegendItem[] = [
  { label: teLegend[0], kind: "line", color: RED },
  { label: teLegend[1], kind: "dot", color: GREEN },
  { label: teLegend[2], kind: "star", color: BLUE },
];
const jItems: LegendItem[] = [
  { label: jLegend[0], kind: "thin", color: BLUE },
  { label: jLegend[1], kind: "thin", color: RED },
  { label: jLegend[2], kind: "err", color: BLUE },
  { label: jLegend[3], kind: "err", color: RED },
];

const text = (extra: React.CSSProperties): React.CSSProperties => ({
  position: "absolute",
  fontFamily: FONT,
  whiteSpace: "nowrap",
  ...extra,
});

function Column({ c }: { c: number }) {
  const x0 = PLOT_LEFT[c];
  return (
    <>
      <Panel
        col={c}
        row={0}
        domain={[0, 0.8]}
        ticks={dTicks}
        fmt={(v) => v.toFixed(1)}
        color={RED}
        right={{ domain: [0, 1.2], ticks: chiTicks, color: BLUE }}
      >
        {[line("d", dPerp[c], RED, 2.2), line("chi", chi[c], BLUE, 2.2, "r")]}
      </Panel>
      <Panel
        col={c}
        row={1}
        domain={[0, 3.8]}
        ticks={neTicks}
        fmt={(v) => v.toFixed(1)}
        legend={{ items: neItems, left: 147, width: 241, height: 50 }}
      >
        {[scatter("beam", neBeam[c], tri), line("ne", neModel[c], RED, 2.2)]}
      </Panel>
      <Panel
        col={c}
        row={2}
        domain={[0, 185]}
        ticks={teTicks}
        fmt={(v) => String(v)}
        legend={{ items: teItems, left: 146, width: 242, height: 73 }}
      >
        {[scatter("lp", teProbe[c], dot), scatter("ece", teEce[c], star), line("te", teModel[c], RED, 2.2)]}
      </Panel>
      <Panel
        col={c}
        row={3}
        domain={[0, 10.6]}
        ticks={jTicks}
        fmt={(v) => String(v)}
        legend={{ items: jItems, left: 131, width: 256, height: 97 }}
      >
        {[
          line("jin", jInModel[c], BLUE, 1.2),
          line("jout", jOutModel[c], RED, 1.2),
          scatter("pin", jInProbe[c], ball(BLUE), BLUE),
          scatter("pout", jOutProbe[c], ball(RED), RED),
        ]}
      </Panel>

      <div style={text({ left: x0, width: PW, top: 3, textAlign: "center", fontSize: 22, letterSpacing: 1.2, color: "#111" })}>
        {titles[c]}
      </div>
      <div style={text({ left: x0 + 240 - 120, width: 240, top: 86, textAlign: "center", fontSize: 19, letterSpacing: 1.6, color: "#111" })}>
        Transport parameters
      </div>
      <div style={text({ left: x0 + 2, top: 166, fontSize: 12, color: "#222" })}>1e19</div>
      <div style={text({ left: x0 + [188, 208, 202][c] - 40, width: 80, top: 648, textAlign: "center", fontSize: 27, color: "#111" })}>
        ρ<sub style={{ fontSize: 18 }}>pol</sub>
      </div>
    </>
  );
}

const rotated = (cx: number, cy: number, color: string, content: React.ReactNode) => (
  <div
    style={text({
      left: cx,
      top: cy,
      transform: "translate(-50%, -50%) rotate(-90deg)",
      fontSize: 21,
      letterSpacing: 1,
      color,
    })}
  >
    {content}
  </div>
);

export default function App() {
  return (
    <div style={{ position: "absolute", left: 0, top: 0, width: 1440, height: 685, background: "#fff", overflow: "hidden" }}>
      <Column c={0} />
      <Column c={1} />
      <Column c={2} />
      {rotated(26, 105, RED, <>D⊥ [m<sup style={{ fontSize: 14 }}>2</sup> /s]</>)}
      {rotated(24, 255, "#111", <>n<sub style={{ fontSize: 14 }}>e</sub> [m<sup style={{ fontSize: 14 }}> −3</sup>]</>)}
      {rotated(24, 413, "#111", <>T<sub style={{ fontSize: 14 }}>e</sub> [eV]</>)}
      {rotated(24, 560, "#111", <>j<sub style={{ fontSize: 14 }}>sat</sub> [kA/m<sup style={{ fontSize: 14 }}>2</sup>]</>)}
      {rotated(1427, 106, BLUE, <>X⊥ [m<sup style={{ fontSize: 14 }}>2</sup> /s]</>)}
    </div>
  );
}
